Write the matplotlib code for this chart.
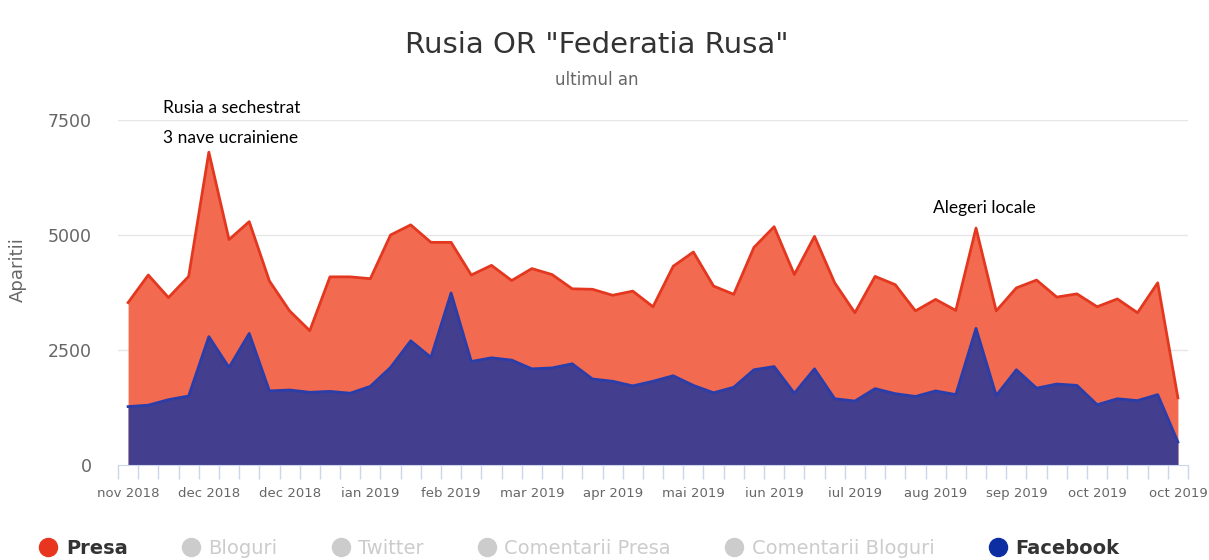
import numpy as np
import matplotlib
matplotlib.use("Agg")
import matplotlib.pyplot as plt
from matplotlib.lines import Line2D

# valori (saptamanal, nov 2018 - oct 2019)
presa_total = [3530, 4130, 3640, 4100, 6800, 4900, 5290, 4000, 3350, 2920,
               4090, 4090, 4050, 5000, 5220, 4840, 4840, 4130, 4340, 4010,
               4270, 4140, 3830, 3820, 3690, 3780, 3440, 4320, 4630, 3890,
               3710, 4730, 5180, 4140, 4970, 3960, 3310, 4100, 3920, 3350,
               3600, 3360, 5150, 3350, 3850, 4020, 3650, 3720, 3440, 3610,
               3310, 3960, 1460]
facebook = [1270, 1300, 1420, 1500, 2790, 2120, 2860, 1610, 1630, 1580,
            1600, 1560, 1710, 2120, 2700, 2340, 3740, 2250, 2330, 2280,
            2090, 2110, 2200, 1870, 1820, 1720, 1820, 1940, 1730, 1570,
            1690, 2070, 2140, 1560, 2090, 1440, 1390, 1660, 1550, 1490,
            1610, 1530, 2970, 1510, 2070, 1670, 1760, 1730, 1310, 1440,
            1400, 1530, 500]
etichete_x = ["nov 2018", "dec 2018", "dec 2018", "ian 2019", "feb 2019",
              "mar 2019", "apr 2019", "mai 2019", "iun 2019", "iul 2019",
              "aug 2019", "sep 2019", "oct 2019", "oct 2019"]
serii_legenda = ["Presa", "Bloguri", "Twitter", "Comentarii Presa",
                 "Comentarii Bloguri", "Facebook"]

x = np.arange(len(presa_total))

fig = plt.figure(figsize=(12.09, 5.6), dpi=100)
ax = fig.add_axes([118/1209, 1-465/560, 1070/1209, 345/560])

ax.fill_between(x, 0, presa_total, color="#f26a50", lw=0)
ax.plot(x, presa_total, color="#e3381f", lw=2)
ax.fill_between(x, 0, facebook, color="#443e8e", lw=0)
ax.plot(x, facebook, color="#2a3da8", lw=2)

ax.set_xlim(-0.5, len(x) - 0.5)
ax.set_ylim(0, 7500)
ax.set_yticks([0, 2500, 5000, 7500])
ax.set_yticklabels(["0", "2500", "5000", "7500"])
ax.tick_params(axis="y", length=0, pad=19, labelsize=12.5, labelcolor="#666666")
for v in [2500, 5000, 7500]:
    ax.axhline(v, color="#e6e6e6", lw=1, zorder=0)

ax.set_xticks(x[::4])
ax.set_xticklabels(etichete_x)
ax.set_xticks(np.arange(-0.5, len(x), 1), minor=True)
ax.tick_params(axis="x", which="major", length=0, pad=16, labelsize=9.5, labelcolor="#666666")
ax.tick_params(axis="x", which="minor", length=10, color="#ccd6eb", width=1)

for s in ["top", "right", "left"]:
    ax.spines[s].set_visible(False)
ax.spines["bottom"].set_color("#ccd6eb")

fig.text(18/1209, 1-270/560, "Aparitii", rotation=90, ha="center", va="center",
         fontsize=13, color="#666666")

fig.text(0.494, 1-45/560, 'Rusia OR "Federatia Rusa"', ha="center", va="center",
         fontsize=21, color="#333333")
fig.text(0.494, 1-80/560, "ultimul an", ha="center", va="center",
         fontsize=12, color="#666666")

# adnotari
fig.text(163/1209, 1-108/560, "Rusia a sechestrat", ha="left", va="center",
         fontsize=12.5, family="Lato", color="black")
fig.text(163/1209, 1-138/560, "3 nave ucrainiene", ha="left", va="center",
         fontsize=12.5, family="Lato", color="black")
fig.text(933/1209, 1-208/560, "Alegeri locale", ha="left", va="center",
         fontsize=12.5, family="Lato", color="black")

# legenda
culori = ["#e8351f", "#cccccc", "#cccccc", "#cccccc", "#cccccc", "#0d2ea3"]
handles = [Line2D([], [], ls="none", marker="o", markersize=13, color=c) for c in culori]
leg = fig.legend(handles, serii_legenda, loc="center", ncol=6, frameon=False,
                 bbox_to_anchor=(578/1209, 1-548/560), fontsize=14,
                 handletextpad=0.3, columnspacing=2.65, handlelength=1.2)
for t, c in zip(leg.get_texts(), ["#333333", "#cccccc", "#cccccc", "#cccccc", "#cccccc", "#333333"]):
    t.set_color(c)
    if c == "#333333":
        t.set_fontweight("bold")

fig.savefig("out.png", dpi=100)
